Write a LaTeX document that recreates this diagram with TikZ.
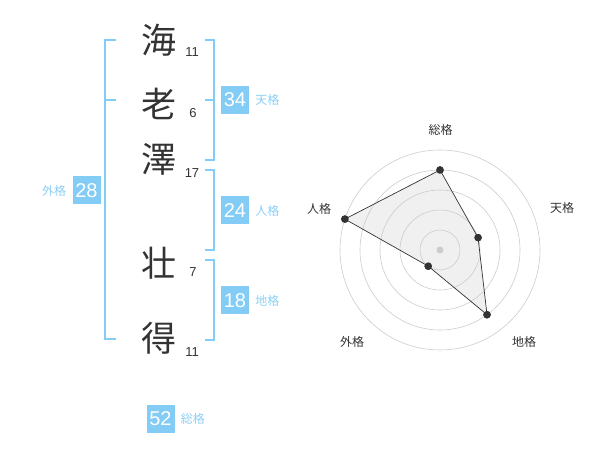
\documentclass[tikz,border=0pt]{standalone}
\usepackage{fontspec}
\setmainfont{Liberation Sans}
\newfontfamily\jp{Noto Sans CJK JP}
\usetikzlibrary{
    positioning,
    calc
}
\definecolor{kakublue}{HTML}{82CCF6}
\definecolor{kakutext}{HTML}{8CCFF4}
\definecolor{inkgray}{HTML}{333333}
\definecolor{ringgray}{HTML}{CCCCCC}
\definecolor{areagray}{HTML}{E6E6E6}

\begin{document}
\begin{tikzpicture}[
    x=1pt, y=-1pt,
    kanji/.style={font=\jp\fontsize{35}{35}\selectfont, text=inkgray,
                  inner sep=0pt},
    strokes/.style={font=\fontsize{13}{13}\selectfont, text=inkgray,
                    inner sep=0pt},
    kaku/.style={rectangle, fill=kakublue, text=white,
                 minimum width=28pt, minimum height=28pt, inner sep=0pt,
                 font=\fontsize{20}{20}\selectfont},
    kakulab/.style={font=\jp\fontsize{12}{12}\selectfont, text=kakutext,
                    inner sep=0pt},
    brace/.style={draw=kakublue, line width=1.8pt},
    ring/.style={draw=ringgray, line width=0.6pt},
    dot/.style={circle, fill=inkgray, minimum size=7.5pt, inner sep=0pt},
    axlab/.style={font=\jp\fontsize{12}{12}\selectfont, text=inkgray,
                  inner sep=0pt}
]
\useasboundingbox (0,0) rectangle (600,470);

% =========================
% 1) NAME CHARACTERS
% =========================
\node[kanji] (c1) at (159,40)  {海};
\node[kanji] (c2) at (159,104) {老};
\node[kanji] (c3) at (159,159) {澤};
\node[kanji] (c4) at (159,263) {壮};
\node[kanji] (c5) at (159,338) {得};

\node[strokes] (n1) at (192,52)  {11};
\node[strokes] (n2) at (193,113) {6};
\node[strokes] (n3) at (192,173) {17};
\node[strokes] (n4) at (193,272) {7};
\node[strokes] (n5) at (192,352) {11};

% =========================
% 2) BRACKETS
% =========================
\draw[brace] (116,40) -- (105,40) -- (105,339) -- (116,339);
\draw[brace] (105,100) -- (116,100);
\draw[brace] (205,40) -- (214,40) -- (214,160) -- (205,160);
\draw[brace] (214,100) -- (205,100);
\draw[brace] (205,170) -- (214,170) -- (214,250) -- (205,250);
\draw[brace] (205,260) -- (214,260) -- (214,340) -- (205,340);

% =========================
% 3) FORTUNE BOXES
% =========================
\node[kaku] (ten) at (235,100)   {34};
\node[kakulab, right=6pt of ten] {天格};
\node[kaku] (jin) at (235,210.5) {24};
\node[kakulab, right=6pt of jin] {人格};
\node[kaku] (chi) at (235,300.5) {18};
\node[kakulab, right=6pt of chi] {地格};
\node[kaku] (gai) at (86.5,190.5) {28};
\node[kakulab, left=6pt of gai]  {外格};
\node[kaku] (sou) at (160.5,419) {52};
\node[kakulab, right=6pt of sou] {総格};

% =========================
% 4) RADAR CHART
% =========================
\begin{scope}[shift={(440,250)}]
\node[inner sep=0pt] (rc) at (0,0) {};

\node[dot] (psou) at (-90:80)  {};
\node[dot] (pten) at (-18:40)  {};
\node[dot] (pchi) at (54:80)   {};
\node[dot] (pgai) at (126:20)  {};
\node[dot] (pjin) at (-162:100) {};

\fill[areagray, fill opacity=0.6] (psou.center) -- (pten.center)
    -- (pchi.center) -- (pgai.center) -- (pjin.center) -- cycle;
\foreach \r in {20,40,60,80,100}
    \draw[ring] (rc) circle (\r);
\fill[ringgray] (rc) circle (3.5);
\draw[inkgray, line width=0.7pt] (psou.center) -- (pten.center)
    -- (pchi.center) -- (pgai.center) -- (pjin.center) -- cycle;
\foreach \p in {psou,pten,pchi,pgai,pjin}
    \node[dot] at (\p) {};

\node[axlab] (lsou) at (0.7,-120) {総格};
\node[axlab] (lten) at (122,-42)  {天格};
\node[axlab] (lchi) at (84,92)    {地格};
\node[axlab] (lgai) at (-88,92)   {外格};
\node[axlab] (ljin) at (-121,-41) {人格};
\end{scope}

\end{tikzpicture}
\end{document}
